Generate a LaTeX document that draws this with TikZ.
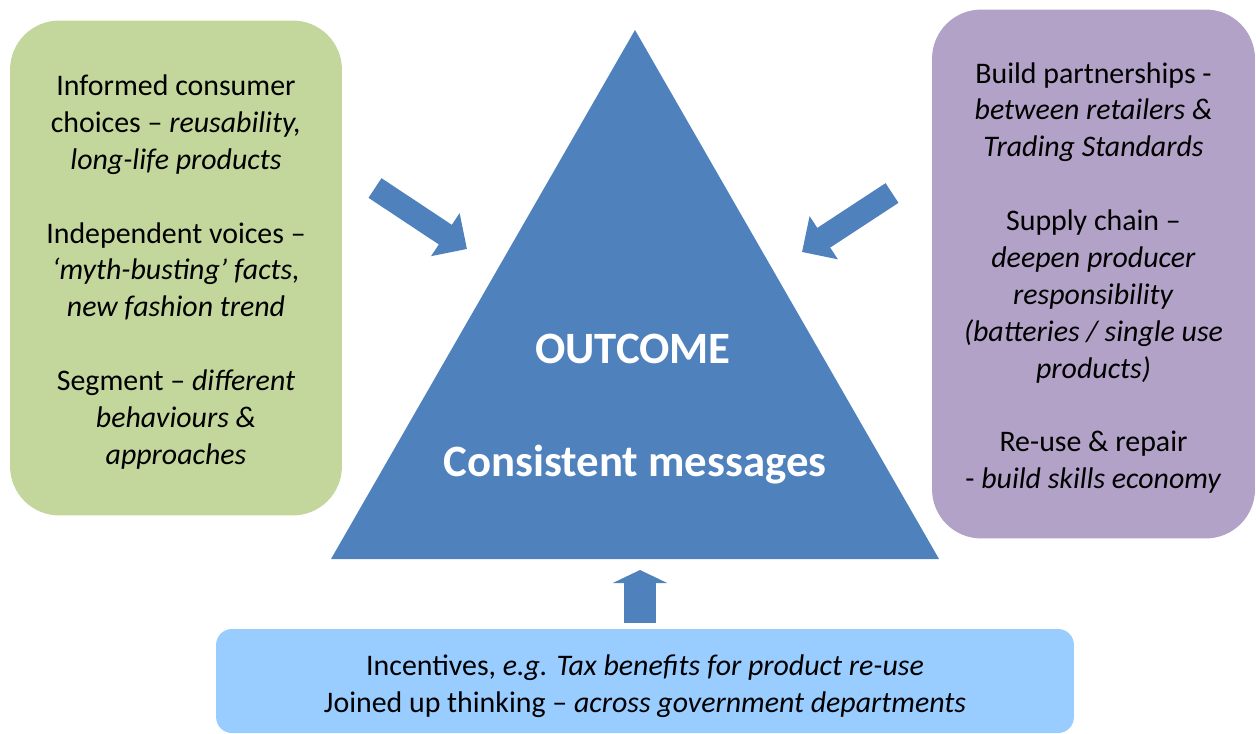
\documentclass[tikz,border=0pt]{standalone}
\usepackage{fontspec}
\setmainfont{Carlito}
\usetikzlibrary{arrows.meta}

\definecolor{boxgreen}{HTML}{C3D69B}
\definecolor{boxpurple}{HTML}{B2A2C7}
\definecolor{triblue}{HTML}{4F81BD}
\definecolor{boxblue}{HTML}{99CCFF}

\tikzset{
  sidebox/.style={rectangle, rounded corners=28pt, inner sep=0pt},
  sidetext/.style={align=center, inner sep=0pt, font=\fontsize{17}{21}\selectfont},
  bigtext/.style={text=white, font=\fontsize{25.5}{30}\selectfont\bfseries},
  blockarrow/.style={draw=triblue, line width=13.4pt,
    -{Triangle[width=28.5pt,length=14.8pt]}},
  uparrow/.style={draw=triblue, line width=18.2pt,
    -{Triangle[width=30.7pt,length=7.4pt]}},
}

\begin{document}
\begin{tikzpicture}[x=0.02cm,y=-0.02cm]
\useasboundingbox (0,0) rectangle (1256,733);
\clip (0,0) rectangle (1256,733);

\node[sidebox, fill=boxgreen, minimum width=6.64cm, minimum height=9.9cm] (L) at (176,268) {};%
\node[sidetext] (Ltext) at (176,272)
{Informed consumer\\ choices – \textit{reusability,}\\ \textit{long-life products}\\[21pt]
Independent voices –\\ \textit{‘myth-busting’ facts,}\\ \textit{new fashion trend}\\[21pt]
Segment – \textit{different}\\ \textit{behaviours \&}\\ \textit{approaches}};%

\node[sidebox, fill=boxpurple, minimum width=6.46cm, minimum height=10.58cm] (R) at (1093.5,274) {};%
\node[sidetext] (Rtext) at (1093.5,278)
{Build partnerships -\\ \textit{between retailers \&}\\ \textit{Trading Standards}\\[21pt]
Supply chain –\\ \textit{deepen producer}\\ \textit{responsibility}\\ \textit{(batteries / single use}\\ \textit{products)}\\[21pt]
Re-use \& repair\\ - \textit{build skills economy}};%

\node[sidebox, rounded corners=9pt, fill=boxblue, minimum width=17.16cm, minimum height=2.08cm] (B) at (645,681) {};%
\node[sidetext] (Btext) at (645,686)
{Incentives, \textit{e.g. Tax benefits for product re-use}\\
Joined up thinking – \textit{across government departments}};%

\fill[triblue] (635,30) -- (939,559) -- (331,559) -- cycle;

\node[bigtext] (O) at (633,349) {OUTCOME};%
\node[bigtext] (M) at (635,465) {Consistent messages};%

\coordinate (Lt) at (375,188);
\coordinate (Lh) at (467,249);
\coordinate (Rt) at (892,193);
\coordinate (Rh) at (802,252);
\coordinate (Bt) at (640,623);
\coordinate (Bh) at (640,570);

\draw[blockarrow] (Lt) -- (Lh);
\draw[blockarrow] (Rt) -- (Rh);
\draw[uparrow] (Bt) -- (Bh);

\end{tikzpicture}
\end{document}
